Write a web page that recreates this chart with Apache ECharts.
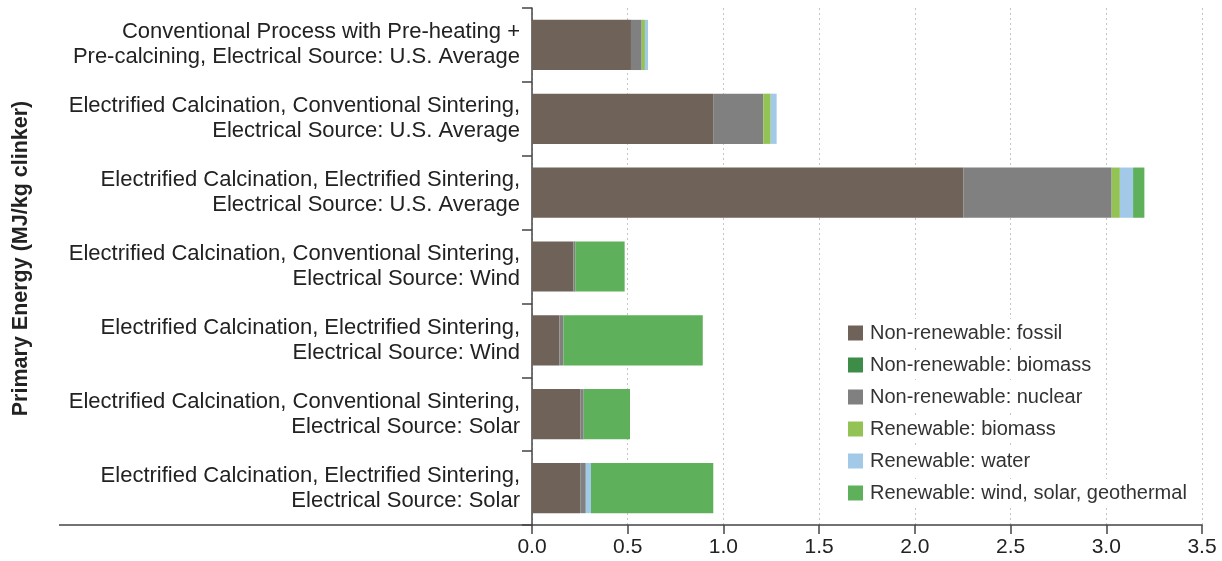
<!DOCTYPE html>
<html>
<head>
<meta charset="utf-8">
<script src="https://cdn.jsdelivr.net/npm/echarts@6/dist/echarts.min.js"></script>
<style>
  html, body { margin: 0; padding: 0; background: #fff; }
  #chart { width: 1222px; height: 561px; }
</style>
</head>
<body>
<div id="chart"></div>
<script>
// Process scenarios (top to bottom)
const categories = [
  'Conventional Process with Pre-heating +\nPre-calcining, Electrical Source: U.S. Average',
  'Electrified Calcination, Conventional Sintering,\nElectrical Source: U.S. Average',
  'Electrified Calcination, Electrified Sintering,\nElectrical Source: U.S. Average',
  'Electrified Calcination, Conventional Sintering,\nElectrical Source: Wind',
  'Electrified Calcination, Electrified Sintering,\nElectrical Source: Wind',
  'Electrified Calcination, Conventional Sintering,\nElectrical Source: Solar',
  'Electrified Calcination, Electrified Sintering,\nElectrical Source: Solar'
];

// Primary energy by source, MJ/kg clinker
const nonRenewableFossil  = [0.517, 0.949, 2.253, 0.216, 0.143, 0.252, 0.252];
const nonRenewableBiomass = [0, 0, 0, 0, 0, 0, 0];
const nonRenewableNuclear = [0.056, 0.259, 0.775, 0.010, 0.021, 0.018, 0.029];
const renewableBiomass    = [0.017, 0.039, 0.043, 0, 0, 0, 0];
const renewableWater      = [0.016, 0.031, 0.069, 0, 0, 0, 0.027];
const renewableWindSolar  = [0, 0, 0.059, 0.258, 0.728, 0.242, 0.639];

const xTicks = { min: 0, max: 3.5, interval: 0.5 };

const seriesDefs = [
  { name: 'Non-renewable: fossil', data: nonRenewableFossil, color: '#6f6259' },
  { name: 'Non-renewable: biomass', data: nonRenewableBiomass, color: '#3d8c48' },
  { name: 'Non-renewable: nuclear', data: nonRenewableNuclear, color: '#808080' },
  { name: 'Renewable: biomass', data: renewableBiomass, color: '#94c355' },
  { name: 'Renewable: water', data: renewableWater, color: '#a3c9e9' },
  { name: 'Renewable: wind, solar, geothermal', data: renewableWindSolar, color: '#5fb05a' }
];

const FONT = '"Liberation Sans", Arial, sans-serif';
const chart = echarts.init(document.getElementById('chart'), null, { renderer: 'canvas' });

chart.setOption({
  animation: false,
  backgroundColor: '#ffffff',
  textStyle: { fontFamily: FONT },
  grid: { left: 532, right: 20, top: 8, bottom: 36, containLabel: false },
  legend: {
    orient: 'vertical',
    left: 843,
    top: 314,
    itemWidth: 15,
    itemHeight: 15,
    itemGap: 4,
    icon: 'rect',
    textStyle: {
      fontFamily: FONT,
      fontSize: 20,
      color: '#333',
      backgroundColor: '#ffffff',
      padding: [4, 4, 4, 2]
    },
    data: seriesDefs.map(s => s.name)
  },
  xAxis: {
    type: 'value',
    min: xTicks.min,
    max: xTicks.max,
    interval: xTicks.interval,
    axisLine: { show: true, lineStyle: { color: '#444', width: 1.5 } },
    axisTick: { show: true, length: 9, lineStyle: { color: '#444', width: 1.5 } },
    axisLabel: {
      fontFamily: FONT,
      fontSize: 21,
      color: '#222',
      margin: 12,
      formatter: v => v.toFixed(1)
    },
    splitLine: { show: true, lineStyle: { color: '#c4c4c4', type: [2, 3], width: 1 } }
  },
  yAxis: {
    type: 'category',
    inverse: true,
    data: categories,
    name: 'Primary Energy (MJ/kg clinker)',
    nameLocation: 'middle',
    nameGap: 500,
    nameRotate: 90,
    nameTextStyle: {
      fontFamily: FONT,
      fontSize: 21.5,
      fontWeight: 'bold',
      color: '#222',
      padding: [0, 0, 0, 16]
    },
    axisLine: { show: true, lineStyle: { color: '#444', width: 1.5 } },
    axisTick: { show: true, length: 10, lineStyle: { color: '#444', width: 1.5 } },
    axisLabel: {
      fontFamily: FONT,
      fontSize: 22,
      color: '#222',
      margin: 12,
      lineHeight: 25,
      align: 'right'
    },
    splitLine: { show: false }
  },
  series: seriesDefs.map(s => ({
    name: s.name,
    type: 'bar',
    stack: 'total',
    barWidth: '68%',
    data: s.data,
    itemStyle: { color: s.color },
    emphasis: { disabled: true }
  }))
});

// Extend the baseline of the value axis to the left under the category labels
const origin = chart.convertToPixel({ xAxisIndex: 0, yAxisIndex: 0 }, [0, categories.length - 1]);
const axisY = 561 - 36;
chart.setOption({
  graphic: [{
    type: 'line',
    z: 10,
    shape: { x1: 59, y1: axisY, x2: origin[0], y2: axisY },
    style: { stroke: '#444', lineWidth: 1.5 }
  }]
});
</script>
</body>
</html>
